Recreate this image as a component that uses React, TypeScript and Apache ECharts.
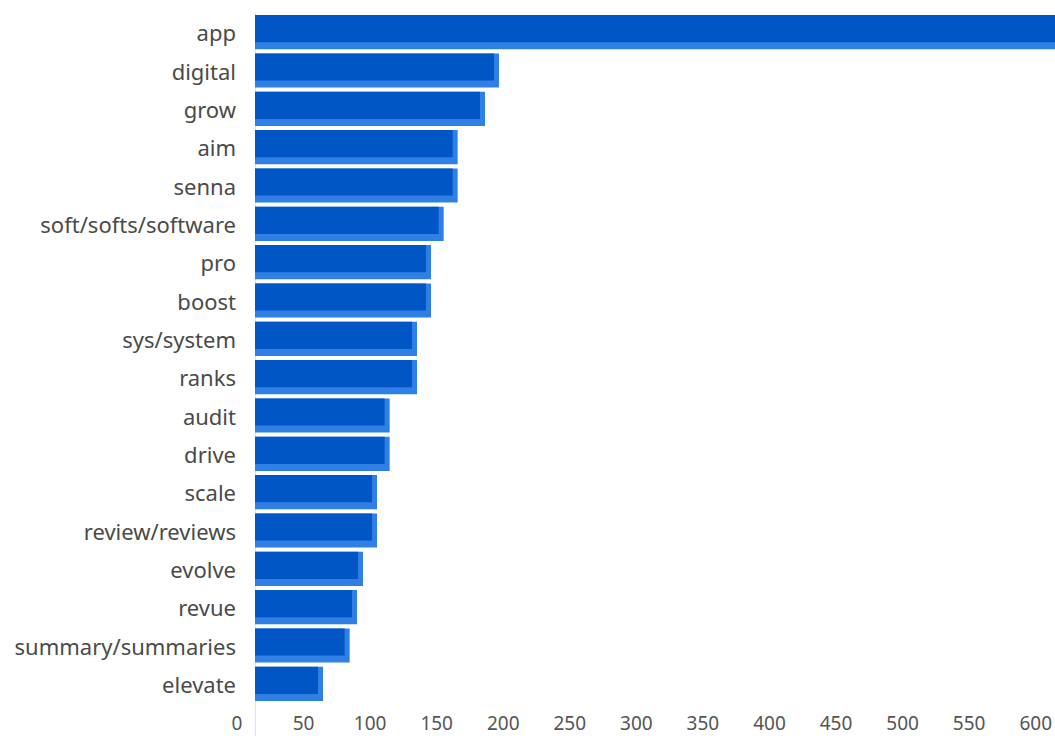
import React, { useEffect, useRef } from "react";
import * as echarts from "echarts";

const categories = [
  "app",
  "digital",
  "grow",
  "aim",
  "senna",
  "soft/softs/software",
  "pro",
  "boost",
  "sys/system",
  "ranks",
  "audit",
  "drive",
  "scale",
  "review/reviews",
  "evolve",
  "revue",
  "summary/summaries",
  "elevate",
];

const values = [640, 183, 172.5, 152, 152, 141.5, 132, 132, 121.5, 121.5, 101, 101, 91.5, 91.5, 81, 76.5, 71, 51];

const xTicks = { min: 0, max: 600, interval: 50 };

const DARK = "#0056c5";
const LIGHT = "#2f7fe4";

export default function App() {
  const ref = useRef<HTMLDivElement>(null);
  useEffect(() => {
    if (!ref.current) return;
    const chart = echarts.init(ref.current, null, { renderer: "svg" });
    const font = "'Noto Sans', 'Open Sans', sans-serif";
    chart.setOption({
      animation: false,
      grid: [
        { left: 255, right: 0, top: 13, bottom: 33 },
        { left: 237, right: 19, top: 13, bottom: 33 },
      ],
      xAxis: [
        {
          gridIndex: 0,
          type: "value",
          min: xTicks.min,
          max: xTicks.max,
          interval: xTicks.interval,
          axisLabel: { show: false },
          axisLine: { show: false },
          axisTick: { show: false },
          splitLine: { show: false },
        },
        {
          gridIndex: 1,
          type: "value",
          min: xTicks.min,
          max: xTicks.max,
          interval: xTicks.interval,
          axisLabel: {
            show: true,
            color: "#555555",
            fontSize: 19,
            fontFamily: font,
            margin: 10,
          },
          axisLine: { show: false },
          axisTick: { show: false },
          splitLine: { show: false },
        },
      ],
      yAxis: [
        {
          gridIndex: 0,
          type: "category",
          data: categories,
          inverse: true,
          axisLine: { show: true, lineStyle: { color: "#e3e3e3", width: 1 } },
          axisTick: { show: false },
          axisLabel: {
            color: "#4a4a4a",
            fontSize: 22,
            fontFamily: font,
            margin: 19,
          },
        },
        {
          gridIndex: 1,
          type: "value",
          min: 0,
          max: 1,
          show: false,
        },
      ],
      graphic: [
        {
          type: "line",
          shape: { x1: 255.5, y1: 703, x2: 255.5, y2: 736 },
          style: { stroke: "#e3e3e3", lineWidth: 1 },
          silent: true,
        },
      ],
      series: [
        {
          type: "custom",
          xAxisIndex: 0,
          yAxisIndex: 0,
          clip: true,
          encode: { x: 0, y: 1 },
          data: values.map((v, i) => [v, i]),
          renderItem: (params: any, api: any) => {
            const v = api.value(0);
            const idx = api.value(1);
            const s = api.coord([0, idx]);
            const e = api.coord([v, idx]);
            const band = api.size([0, 1])[1];
            const h = band * 0.89;
            const top = s[1] - h / 2;
            const w = e[0] - s[0];
            return {
              type: "group",
              children: [
                {
                  type: "rect",
                  shape: { x: s[0], y: top, width: w, height: h },
                  style: { fill: LIGHT },
                },
                {
                  type: "rect",
                  shape: { x: s[0], y: top, width: Math.max(0, w - 5), height: h - 7 },
                  style: { fill: DARK },
                },
              ],
            };
          },
        },
      ],
    });
    return () => chart.dispose();
  }, []);
  return (
    <div
      ref={ref}
      style={{ position: "absolute", left: 0, top: 0, width: 1055, height: 736 }}
    />
  );
}
